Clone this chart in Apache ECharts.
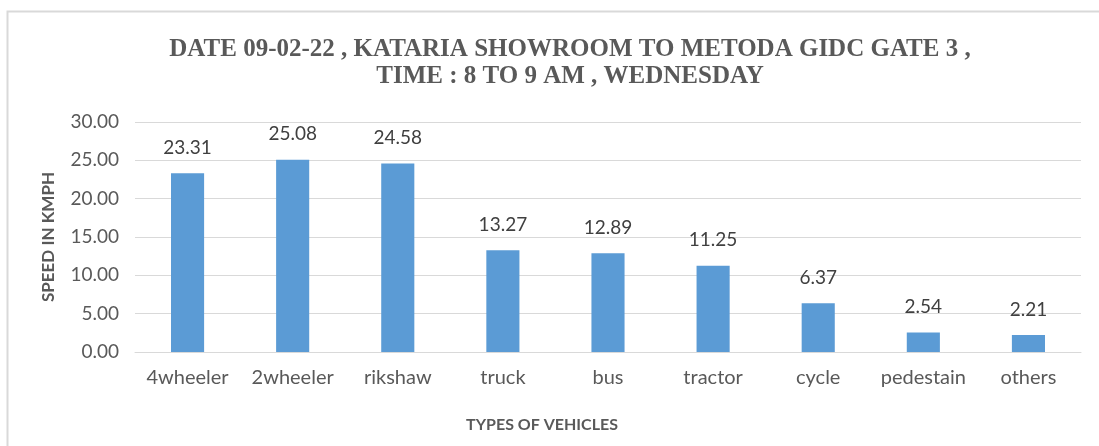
<!DOCTYPE html>
<html>
<head>
<meta charset="utf-8">
<script src="https://cdn.jsdelivr.net/npm/echarts@6/dist/echarts.min.js"></script>
<style>
  html, body { margin: 0; padding: 0; background: #fff; }
  #chart { width: 1099px; height: 446px; }
</style>
</head>
<body>
<div id="chart"></div>
<script>
// data
const vehicleTypes = ['4wheeler', '2wheeler', 'rikshaw', 'truck', 'bus', 'tractor', 'cycle', 'pedestain', 'others'];
const speedKmph = [23.31, 25.08, 24.58, 13.27, 12.89, 11.25, 6.37, 2.54, 2.21];
const titleLines = ['DATE 09-02-22 , KATARIA SHOWROOM TO METODA GIDC GATE 3 ,', 'TIME : 8 TO 9 AM , WEDNESDAY'];

const chart = echarts.init(document.getElementById('chart'));
const uiFont = 'Lato, "Open Sans", sans-serif';

const option = {
  animation: false,
  backgroundColor: '#fff',
  graphic: [{
    type: 'rect',
    shape: { x: 7.5, y: 11.5, width: 1200, height: 600 },
    style: { fill: 'none', stroke: '#d9d9d9', lineWidth: 2 },
    silent: true
  }],
  title: [{
    text: titleLines.join('\n'),
    left: 565,
    top: 31,
    textAlign: 'center',
    textStyle: {
      fontFamily: '"Liberation Serif", "Times New Roman", serif',
      fontWeight: 'bold',
      fontSize: 25,
      lineHeight: 27,
      color: '#595959'
    }
  }, {
    text: 'TYPES OF VEHICLES',
    left: 537,
    top: 412,
    textAlign: 'center',
    textStyle: { fontFamily: uiFont, fontWeight: 'bold', fontSize: 16, color: '#595959' }
  }],
  grid: { left: 135, right: 18, top: 122, bottom: 94 },
  xAxis: {
    type: 'category',
    data: vehicleTypes,
    axisLine: { lineStyle: { color: '#d9d9d9', width: 1 } },
    axisTick: { show: false },
    axisLabel: { interval: 0, fontFamily: uiFont, fontSize: 20, color: '#595959', margin: 16 }
  },
  yAxis: {
    type: 'value',
    min: 0,
    max: 30,
    interval: 5,
    name: 'SPEED IN KMPH',
    nameLocation: 'middle',
    nameGap: 78,
    nameRotate: 90,
    nameTextStyle: { fontFamily: uiFont, fontWeight: 'bold', fontSize: 17, color: '#595959' },
    axisLine: { show: false },
    axisTick: { show: false },
    axisLabel: {
      fontFamily: uiFont, fontSize: 19, color: '#595959', margin: 16,
      formatter: v => v.toFixed(2)
    },
    splitLine: { lineStyle: { color: '#d9d9d9', width: 1 } }
  },
  series: [{
    type: 'bar',
    data: speedKmph,
    barWidth: '31.5%',
    itemStyle: { color: '#5b9bd5' },
    label: {
      show: true,
      position: 'top',
      distance: 16,
      fontFamily: uiFont,
      fontSize: 19,
      color: '#404040',
      formatter: p => p.value.toFixed(2)
    }
  }]
};

chart.setOption(option);
</script>
</body>
</html>
